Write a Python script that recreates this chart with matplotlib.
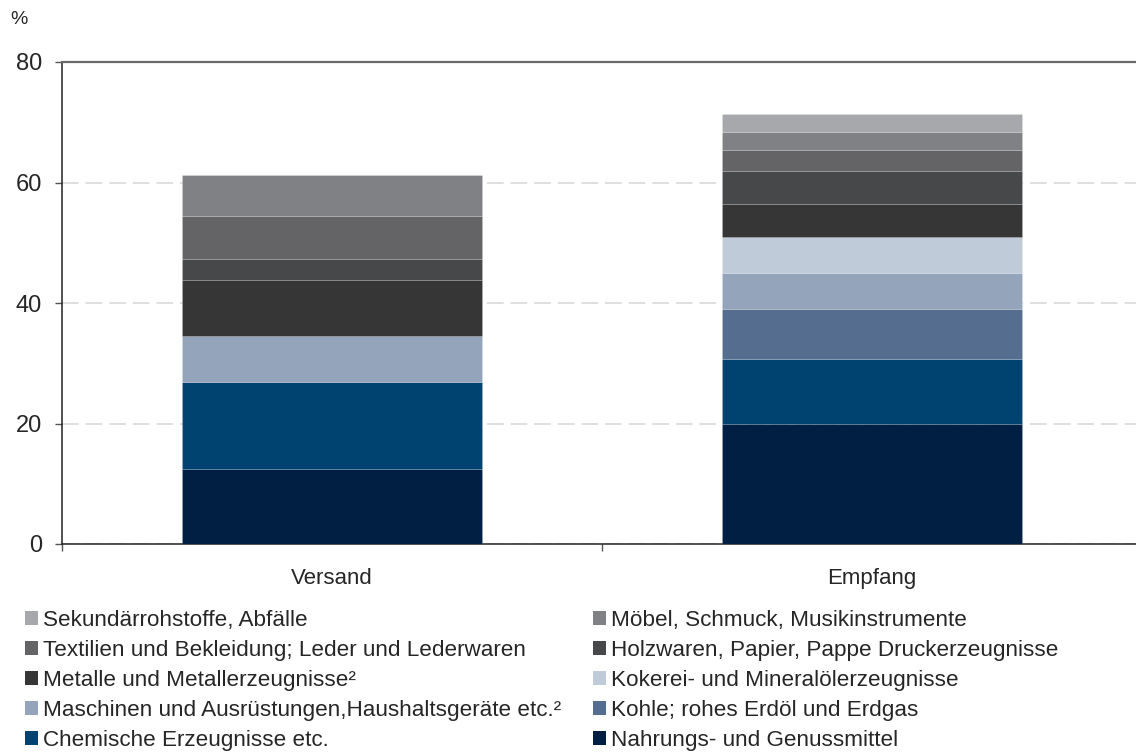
import matplotlib
matplotlib.use("Agg")
import matplotlib.pyplot as plt
from matplotlib.patches import Patch

# data (% share)
categories = ["Versand", "Empfang"]
goods = [
    "Nahrungs- und Genussmittel",
    "Chemische Erzeugnisse etc.",
    "Kohle; rohes Erdöl und Erdgas",
    "Maschinen und Ausrüstungen,Haushaltsgeräte etc.²",
    "Kokerei- und Mineralölerzeugnisse",
    "Metalle und Metallerzeugnisse²",
    "Holzwaren, Papier, Pappe Druckerzeugnisse",
    "Textilien und Bekleidung; Leder und Lederwaren",
    "Möbel, Schmuck, Musikinstrumente",
    "Sekundärrohstoffe, Abfälle",
]
versand = [12.4, 14.5, 0.0, 7.6, 0.0, 9.4, 3.4, 7.2, 6.7, 0.0]
empfang = [20.0, 10.7, 8.25, 5.95, 6.0, 5.5, 5.5, 3.5, 3.0, 3.0]
colors = ["#001f42", "#004370", "#556e8f", "#94a5bb", "#bfcbd9",
          "#363636", "#47484a", "#646466", "#808184", "#a7a8ab"]

plt.rcParams["font.family"] = ["Liberation Sans", "DejaVu Sans"]
plt.rcParams["lines.scale_dashes"] = False
txt = "#262626"

fig = plt.figure(figsize=(11.36, 7.53), dpi=100)
ax = fig.add_axes([62 / 1136, 1 - 544 / 753, 1080 / 1136, 482 / 753])

x = range(len(categories))
bottom = [0.0, 0.0]
for i, name in enumerate(goods):
    vals = [versand[i], empfang[i]]
    ax.bar(x, vals, width=0.555, bottom=bottom, color=colors[i],
           edgecolor=(1, 1, 1, 0.15), linewidth=0.6, zorder=3)
    bottom = [b + v for b, v in zip(bottom, vals)]

ax.set_xlim(-0.5, 1.5)
ax.set_ylim(0, 80)
ax.set_yticks([0, 20, 40, 60, 80])
ax.yaxis.grid(True, color="#d9d9d9", linewidth=1.2, dashes=(12, 5), zorder=0)
ax.set_axisbelow(True)

ax.set_xticks(list(x))
ax.set_xticklabels(categories)
ax.set_xticks([-0.5, 0.5, 1.5], minor=True)
ax.tick_params(axis="x", which="major", length=0, pad=17, labelsize=16, labelcolor=txt)
ax.tick_params(axis="x", which="minor", length=5, width=1, color="#555555", direction="out")
ax.tick_params(axis="y", length=5, width=1, color="#555555", pad=9.5, labelsize=17, labelcolor=txt)

for s in ["left", "bottom"]:
    ax.spines[s].set_color("#222222")
    ax.spines[s].set_linewidth(1.1)
ax.spines["right"].set_visible(False)
ax.spines["top"].set_color("#6a6a6a")
ax.spines["top"].set_linewidth(1.6)

fig.text(10 / 1136, 1 - 20 / 753, "%", fontsize=14, color=txt, va="center", ha="left")

handles = [Patch(facecolor=c, edgecolor="none") for c in colors]
left_idx = [9, 7, 5, 3, 1]
right_idx = [8, 6, 4, 2, 0]
for idx, xpos in [(left_idx, 25 / 1136), (right_idx, 593 / 1136)]:
    leg = fig.legend([handles[i] for i in idx], [goods[i] for i in idx],
                     loc="upper left", bbox_to_anchor=(xpos, 1 - 610 / 753),
                     ncol=1, frameon=False, fontsize=16.2, handlelength=0.58,
                     handleheight=0.58, handletextpad=0.2, labelspacing=0.40,
                     borderaxespad=0, borderpad=0)
    for t in leg.get_texts():
        t.set_color(txt)

fig.savefig("out.png", dpi=100)
